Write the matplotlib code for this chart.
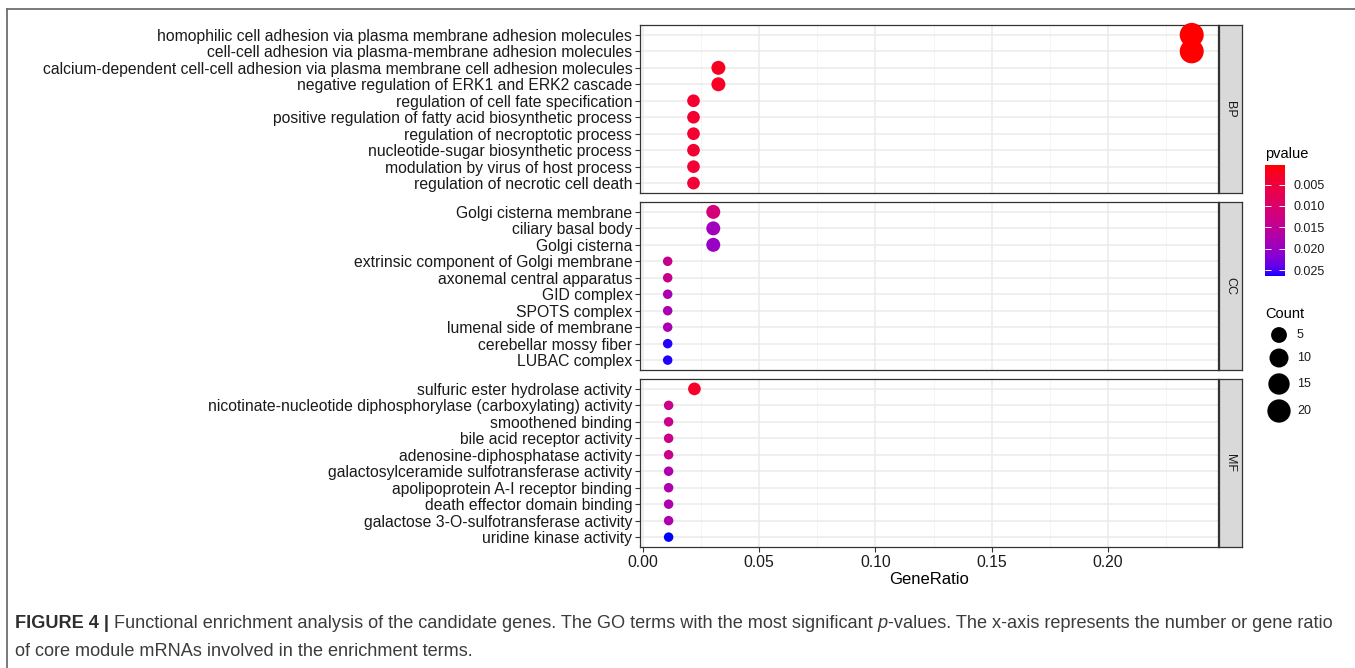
import numpy as np
import matplotlib
matplotlib.use('Agg')
import matplotlib.pyplot as plt
from matplotlib.lines import Line2D
from matplotlib.colors import ListedColormap, Normalize

plt.rcParams['font.family'] = ['Liberation Sans', 'DejaVu Sans']

# GO enrichment results, one block per ontology (rows listed top to bottom)
bp_terms = [
    'homophilic cell adhesion via plasma membrane adhesion molecules',
    'cell-cell adhesion via plasma-membrane adhesion molecules',
    'calcium-dependent cell-cell adhesion via plasma membrane cell adhesion molecules',
    'negative regulation of ERK1 and ERK2 cascade',
    'regulation of cell fate specification',
    'positive regulation of fatty acid biosynthetic process',
    'regulation of necroptotic process',
    'nucleotide-sugar biosynthetic process',
    'modulation by virus of host process',
    'regulation of necrotic cell death',
]
bp_ratio = [0.236, 0.236, 0.0325, 0.0325, 0.0218, 0.0218, 0.0218, 0.0218, 0.0218, 0.0218]
bp_count = [22, 22, 3, 3, 2, 2, 2, 2, 2, 2]
bp_pvalue = [0.0004, 0.0004, 0.0022, 0.0025, 0.0035, 0.0036, 0.0038, 0.0039, 0.0040, 0.0042]

cc_terms = [
    'Golgi cisterna membrane',
    'ciliary basal body',
    'Golgi cisterna',
    'extrinsic component of Golgi membrane',
    'axonemal central apparatus',
    'GID complex',
    'SPOTS complex',
    'lumenal side of membrane',
    'cerebellar mossy fiber',
    'LUBAC complex',
]
cc_ratio = [0.0303, 0.0303, 0.0303, 0.0107, 0.0107, 0.0107, 0.0107, 0.0107, 0.0107, 0.0107]
cc_count = [3, 3, 3, 1, 1, 1, 1, 1, 1, 1]
cc_pvalue = [0.0115, 0.0190, 0.0200, 0.0140, 0.0140, 0.0180, 0.0180, 0.0180, 0.0260, 0.0260]

mf_terms = [
    'sulfuric ester hydrolase activity',
    'nicotinate-nucleotide diphosphorylase (carboxylating) activity',
    'smoothened binding',
    'bile acid receptor activity',
    'adenosine-diphosphatase activity',
    'galactosylceramide sulfotransferase activity',
    'apolipoprotein A-I receptor binding',
    'death effector domain binding',
    'galactose 3-O-sulfotransferase activity',
    'uridine kinase activity',
]
mf_ratio = [0.0222, 0.0111, 0.0111, 0.0111, 0.0111, 0.0111, 0.0111, 0.0111, 0.0111, 0.0111]
mf_count = [2, 1, 1, 1, 1, 1, 1, 1, 1, 1]
mf_pvalue = [0.0030, 0.0135, 0.0135, 0.0135, 0.0135, 0.0175, 0.0175, 0.0175, 0.0175, 0.0264]

facets = ['BP', 'CC', 'MF']
x_ticks = [0.00, 0.05, 0.10, 0.15, 0.20]
pvalue_ticks = [0.005, 0.010, 0.015, 0.020, 0.025]
count_breaks = [5, 10, 15, 20]


# red -> blue ramp interpolated in CIELAB (like ggplot's gradient)
M_RGB2XYZ = np.array([[0.4124, 0.3576, 0.1805], [0.2126, 0.7152, 0.0722], [0.0193, 0.1192, 0.9505]])
WHITE = np.array([0.95047, 1.0, 1.08883])


def _lab(rgb):
    c = np.asarray(rgb, float)
    lin = np.where(c <= 0.04045, c / 12.92, ((c + 0.055) / 1.055) ** 2.4)
    xyz = M_RGB2XYZ @ lin / WHITE
    d = 6 / 29
    f = np.where(xyz > d ** 3, np.cbrt(xyz), xyz / (3 * d * d) + 4 / 29)
    return np.array([116 * f[1] - 16, 500 * (f[0] - f[1]), 200 * (f[1] - f[2])])


def _rgb(lab):
    L, a, b = lab
    fy = (L + 16) / 116
    f = np.array([fy + a / 500, fy, fy - b / 200])
    d = 6 / 29
    xyz = np.where(f > d, f ** 3, 3 * d * d * (f - 4 / 29)) * WHITE
    lin = np.clip(np.linalg.inv(M_RGB2XYZ) @ xyz, 0, 1)
    return np.clip(np.where(lin <= 0.0031308, 12.92 * lin, 1.055 * lin ** (1 / 2.4) - 0.055), 0, 1)


lab_lo, lab_hi = _lab([1, 0, 0]), _lab([0, 0, 1])
cmap = ListedColormap([_rgb(lab_lo + (lab_hi - lab_lo) * t) for t in np.linspace(0, 1, 256)])

all_p = bp_pvalue + cc_pvalue + mf_pvalue
all_n = bp_count + cc_count + mf_count
norm = Normalize(min(all_p), max(all_p))
n_min, n_max = min(all_n), max(all_n)


def marker_area(n):
    # area scale: diameter grows with sqrt of the rescaled count
    n = np.asarray(n, float)
    d_px = 9.5 + 14.5 * np.sqrt((n - n_min) / (n_max - n_min))
    return (d_px * 0.72) ** 2


W, H = 1355, 668
fig = plt.figure(figsize=(W / 100, H / 100), dpi=100)


def box(x0, y0, x1, y1):
    return [x0 / W, 1 - y1 / H, (x1 - x0) / W, (y1 - y0) / H]


panel_px = [(25, 193), (202, 370), (379, 547)]
data = [
    (bp_terms, bp_ratio, bp_count, bp_pvalue),
    (cc_terms, cc_ratio, cc_count, cc_pvalue),
    (mf_terms, mf_ratio, mf_count, mf_pvalue),
]
grid_col = '#EBEBEB'
frame_col = '#333333'
label_size = 11.35

for i, (facet, (top, bot), (terms, ratio, count, pval)) in enumerate(zip(facets, panel_px, data)):
    ax = fig.add_axes(box(640, top, 1218, bot))
    y = np.arange(len(terms))
    ax.scatter(ratio, y, s=marker_area(count), c=pval, cmap=cmap, norm=norm,
               edgecolors='none', zorder=3, clip_on=False)
    ax.set_xlim(-0.0012, 0.2473)
    ax.set_ylim(len(terms) - 0.4, -0.6)
    ax.set_yticks(y)
    ax.set_yticklabels(terms, fontsize=label_size, color='#1a1a1a')
    ax.set_xticks(x_ticks)
    ax.set_xticks([0.025, 0.075, 0.125, 0.175, 0.225], minor=True)
    ax.grid(True, which='major', color=grid_col, lw=1.1, zorder=0)
    ax.grid(True, which='minor', axis='x', color='#F4F4F4', lw=0.6, zorder=0)
    ax.set_axisbelow(True)
    ax.tick_params(axis='y', length=3.5, width=0.8, color=frame_col, pad=2)
    ax.tick_params(axis='x', which='minor', length=0)
    if i == 2:
        ax.set_xticklabels(['0.00', '0.05', '0.10', '0.15', '0.20'], fontsize=label_size, color='#1a1a1a')
        ax.tick_params(axis='x', length=3.5, width=0.8, color=frame_col, pad=2)
        ax.set_xlabel('GeneRatio', fontsize=12, labelpad=2)
    else:
        ax.tick_params(axis='x', length=0, labelbottom=False)
    for sp in ax.spines.values():
        sp.set_color(frame_col)
        sp.set_linewidth(0.9)

    strip = fig.add_axes(box(1219, top, 1242, bot))
    strip.set_facecolor('#D9D9D9')
    strip.set_xticks([])
    strip.set_yticks([])
    for sp in strip.spines.values():
        sp.set_color(frame_col)
        sp.set_linewidth(0.9)
    strip.text(0.5, 0.5, facet, rotation=-90, ha='center', va='center',
               fontsize=9, color='#1a1a1a', transform=strip.transAxes)

# p-value colour bar (small values on top)
cax = fig.add_axes(box(1265, 165, 1285, 276))
grad = np.linspace(norm.vmin, norm.vmax, 256).reshape(-1, 1)
cax.imshow(grad, cmap=cmap, norm=norm, aspect='auto',
           extent=[0, 1, norm.vmax, norm.vmin])
cax.set_ylim(norm.vmax, norm.vmin)
cax.set_xticks([])
cax.set_yticks(pvalue_ticks)
cax.set_yticklabels([f'{v:.3f}' for v in pvalue_ticks], fontsize=9, color='#1a1a1a')
cax.tick_params(axis='y', direction='in', left=True, right=True, labelleft=False,
                labelright=True, color='white', length=4, width=0.7, pad=6)
for sp in cax.spines.values():
    sp.set_visible(False)
fig.text(1265 / W, 1 - 154 / H, 'pvalue', fontsize=10.5, ha='left', va='center')

# Count size legend
lax = fig.add_axes(box(1262, 322, 1340, 424))
lax.set_xlim(0, 78)
lax.set_ylim(102, 0)
lax.axis('off')
leg_y = [13, 36, 62, 89]
lax.scatter([17] * len(count_breaks), leg_y, s=marker_area(count_breaks), c='black',
            edgecolors='none', clip_on=False)
for yy, v in zip(leg_y, count_breaks):
    lax.text(35, yy, str(v), fontsize=9, va='center', ha='left', color='#1a1a1a')
fig.text(1265 / W, 1 - 314 / H, 'Count', fontsize=10.5, ha='left', va='center')

# outer frame of the figure box
for xs, ys in [([7 / W, 1], [1 - 9 / H, 1 - 9 / H]), ([7 / W, 7 / W], [0, 1 - 9 / H])]:
    fig.add_artist(Line2D(xs, ys, transform=fig.transFigure, color='#6E6E6E', lw=1.3))

# caption, first line built from pieces so "p" can be italic
cap_size = 13.1
cap_col = '#3c3c3c'
head = fig.text(15 / W, 1 - 623 / H, 'FIGURE 4 |', fontsize=cap_size, fontweight='bold',
                color='#2e2e2e', va='center', ha='left')
part1 = lax.annotate(' Functional enrichment analysis of the candidate genes. The GO terms with the most significant ',
                     xy=(1, 0), xycoords=head, va='bottom', ha='left',
                     fontsize=cap_size, color=cap_col, annotation_clip=False)
part2 = lax.annotate('p', xy=(1, 0), xycoords=part1, va='bottom', ha='left', style='italic',
                     fontsize=cap_size, color=cap_col, annotation_clip=False)
lax.annotate('-values. The x-axis represents the number or gene ratio', xy=(1, 0), xycoords=part2,
             va='bottom', ha='left', fontsize=cap_size, color=cap_col, annotation_clip=False)
fig.text(15 / W, 1 - 651 / H, 'of core module mRNAs involved in the enrichment terms.',
         fontsize=cap_size, color=cap_col, va='center', ha='left')

fig.savefig('out.png', dpi=100)
